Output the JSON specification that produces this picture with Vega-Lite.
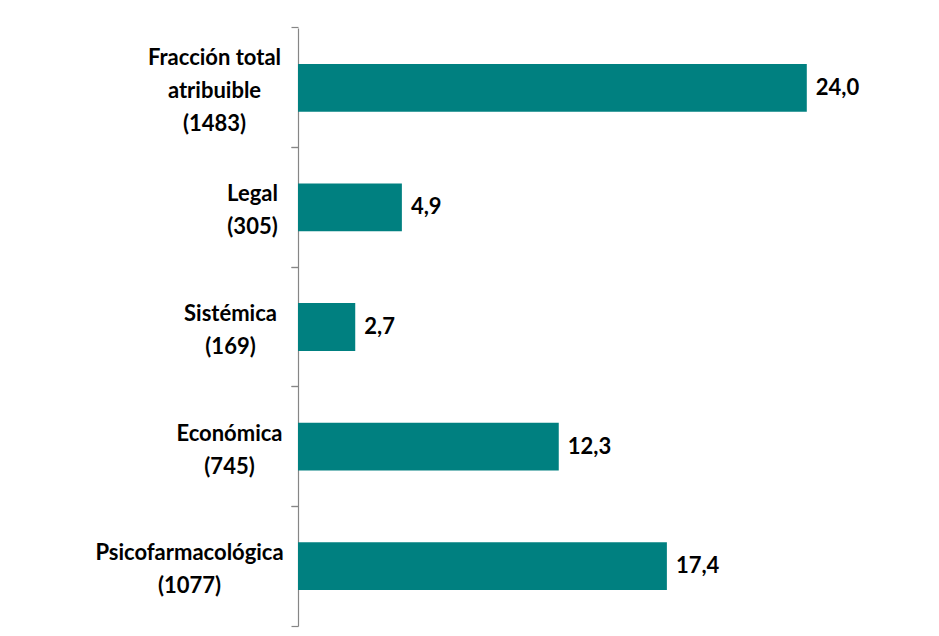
{
  "$schema": "https://vega.github.io/schema/vega-lite/v6.json",
  "autosize": {"type": "none"},
  "padding": {"left": 298, "top": 28, "right": 5, "bottom": 10},
  "width": 636,
  "height": 598,
  "background": "white",
  "config": {
    "view": {"stroke": null},
    "locale": {"number": {"decimal": ",", "thousands": ".", "grouping": [3], "currency": ["", " €"]}}
  },
  "data": {
    "values": [
      {"categoria": "Fracción total|atribuible|(1483)", "valor": 24.0},
      {"categoria": "Legal|(305)", "valor": 4.9},
      {"categoria": "Sistémica|(169)", "valor": 2.7},
      {"categoria": "Económica|(745)", "valor": 12.3},
      {"categoria": "Psicofarmacológica|(1077)", "valor": 17.4}
    ]
  },
  "encoding": {
    "y": {"field": "categoria", "type": "nominal", "sort": null,
      "scale": {"paddingInner": 0.6, "paddingOuter": 0.3}},
    "x": {"field": "valor", "type": "quantitative", "scale": {"domain": [0, 30], "nice": false}, "axis": null}
  },
  "layer": [
    {
      "mark": {"type": "bar", "color": "#008080"},
      "encoding": {
        "y": {"field": "categoria", "type": "nominal", "sort": null,
          "axis": {
            "title": null, "orient": "left", "bandPosition": -0.75,
            "labelExpr": "split(datum.label, '|')",
            "labelFont": "Lato", "labelFontWeight": "bold", "labelFontSize": 22, "labelColor": "#000000",
            "labelLineHeight": 33, "labelAlign": "center", "labelBaseline": "middle", "labelLimit": 400,
            "labelPadding": {"condition": [
              {"test": "indexof(datum.value, 'Fracción') == 0", "value": 77},
              {"test": "indexof(datum.value, 'Legal') == 0", "value": 39},
              {"test": "indexof(datum.value, 'Sistémica') == 0", "value": 61},
              {"test": "indexof(datum.value, 'Económica') == 0", "value": 62}
            ], "value": 102},
            "labelOffset": {"condition": {"test": "indexof(datum.value, 'Fracción') == 0", "value": -30}, "value": -13},
            "labelBound": false, "labelOverlap": false,
            "domainColor": "#868686", "domainWidth": 1.2,
            "tickColor": "#868686", "tickSize": 7, "tickWidth": 1.2
          }
        }
      }
    },
    {
      "mark": {"type": "text", "align": "left", "baseline": "middle", "dx": 9, "font": "Lato", "fontWeight": "bold", "fontSize": 22, "color": "#000000"},
      "encoding": {
        "y": {"field": "categoria", "type": "nominal", "sort": null,
          "axis": {
            "title": null, "orient": "left", "bandPosition": 1.75, "labels": false, "domain": false,
            "tickColor": "#868686", "tickSize": 7, "tickWidth": 1.2
          }
        },
        "text": {"field": "valor", "type": "quantitative", "format": ".1f"}
      }
    }
  ],
  "resolve": {"axis": {"y": "independent"}}
}
